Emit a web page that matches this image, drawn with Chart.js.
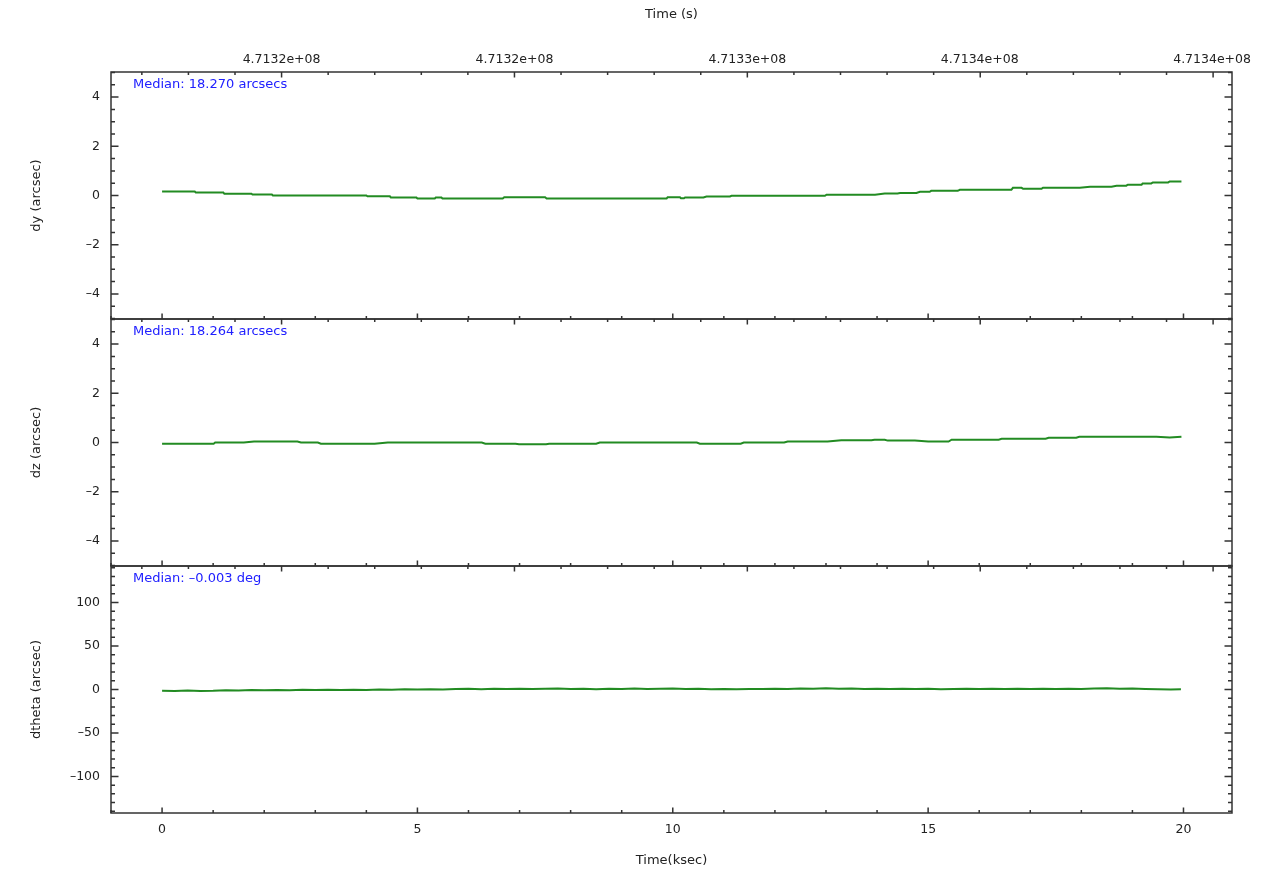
<!DOCTYPE html>
<html><head><meta charset="utf-8">
<script src="https://cdn.jsdelivr.net/npm/chart.js@4.4.1/dist/chart.umd.min.js"></script>
<style>
html,body{margin:0;padding:0;background:#fff;overflow:hidden}
.wrap{position:relative;width:1265px;height:874px}
canvas{position:absolute;left:0;top:0}
</style>
</head><body>
<div class="wrap">
<canvas id="c0" width="1265" height="874"></canvas>
<canvas id="c1" width="1265" height="874"></canvas>
<canvas id="c2" width="1265" height="874"></canvas>
</div>
<script>
// ---------------- data ----------------
const dyTime = [0, 0.64, 0.66, 1.2, 1.22, 1.75, 1.77, 2.15, 2.17, 4.0, 4.02, 4.46, 4.48, 4.98, 5.0, 5.34, 5.36, 5.47, 5.49, 6.67, 6.7, 7.5, 7.53, 9.88, 9.9, 10.14, 10.16, 10.22, 10.24, 10.6, 10.66, 11.12, 11.15, 12.98, 13.01, 13.96, 14.15, 14.4, 14.45, 14.77, 14.84, 15.03, 15.06, 15.58, 15.62, 16.63, 16.66, 16.83, 16.86, 17.22, 17.25, 17.97, 18.17, 18.59, 18.69, 18.88, 18.91, 19.18, 19.2, 19.37, 19.4, 19.7, 19.73, 19.96];
const dyVal = [0.16, 0.16, 0.12, 0.12, 0.07, 0.07, 0.04, 0.04, 0.0, 0.0, -0.03, -0.03, -0.08, -0.08, -0.12, -0.12, -0.08, -0.08, -0.12, -0.12, -0.07, -0.07, -0.12, -0.12, -0.07, -0.07, -0.11, -0.11, -0.08, -0.08, -0.04, -0.04, -0.01, -0.01, 0.03, 0.03, 0.08, 0.08, 0.10, 0.10, 0.15, 0.15, 0.19, 0.19, 0.23, 0.23, 0.31, 0.31, 0.27, 0.27, 0.32, 0.32, 0.36, 0.36, 0.40, 0.40, 0.44, 0.44, 0.49, 0.49, 0.53, 0.53, 0.57, 0.57];

const dzTime = [0, 1.01, 1.04, 1.6, 1.8, 2.65, 2.72, 3.05, 3.11, 4.16, 4.42, 6.26, 6.33, 6.92, 6.99, 7.52, 7.58, 8.5, 8.57, 10.47, 10.53, 11.33, 11.39, 12.18, 12.25, 13.03, 13.3, 13.89, 13.95, 14.15, 14.21, 14.74, 15.0, 15.4, 15.46, 16.38, 16.44, 17.3, 17.36, 17.9, 17.96, 19.47, 19.73, 19.96];
const dzVal = [-0.05, -0.05, 0.0, 0.0, 0.04, 0.04, 0.0, 0.0, -0.05, -0.05, 0.0, 0.0, -0.05, -0.05, -0.075, -0.075, -0.05, -0.05, 0.0, 0.0, -0.05, -0.05, 0.0, 0.0, 0.04, 0.04, 0.09, 0.09, 0.115, 0.115, 0.077, 0.077, 0.04, 0.04, 0.115, 0.115, 0.15, 0.15, 0.19, 0.19, 0.23, 0.23, 0.2, 0.23];

const dthetaTime = [0, 0.25, 0.5, 0.75, 1, 1.25, 1.5, 1.75, 2, 2.25, 2.5, 2.75, 3, 3.25, 3.5, 3.75, 4, 4.25, 4.5, 4.75, 5, 5.25, 5.5, 5.75, 6, 6.25, 6.5, 6.75, 7, 7.25, 7.5, 7.75, 8, 8.25, 8.5, 8.75, 9, 9.25, 9.5, 9.75, 10, 10.25, 10.5, 10.75, 11, 11.25, 11.5, 11.75, 12, 12.25, 12.5, 12.75, 13, 13.25, 13.5, 13.75, 14, 14.25, 14.5, 14.75, 15, 15.25, 15.5, 15.75, 16, 16.25, 16.5, 16.75, 17, 17.25, 17.5, 17.75, 18, 18.25, 18.5, 18.75, 19, 19.25, 19.5, 19.75, 19.95];
const dthetaVal = [-1.4, -1.7, -1.2, -1.6, -1.5, -0.9, -1.1, -0.7, -1.0, -0.5, -0.8, -0.3, -0.6, -0.4, -0.7, -0.2, -0.5, 0.1, -0.2, 0.4, 0.0, 0.3, -0.1, 0.5, 0.8, 0.4, 0.9, 0.6, 1.0, 0.5, 0.8, 1.1, 0.6, 0.9, 0.4, 1.0, 0.7, 1.2, 0.6, 0.9, 1.1, 0.5, 0.8, 0.3, 0.6, 0.4, 0.7, 0.5, 0.9, 0.6, 1.1, 0.8, 1.3, 0.9, 1.2, 0.7, 1.0, 0.6, 0.9, 0.5, 0.8, 0.4, 0.7, 1.0, 0.6, 0.9, 0.5, 0.8, 0.6, 1.0, 0.7, 0.9, 0.6, 1.1, 1.3, 1.0, 1.2, 0.6, 0.3, 0.1, 0.2];

// axis ticks / labels
const xMajorTicks = [0, 5, 10, 15, 20];
const topTickKsec = [2.34, 6.90, 11.46, 16.01, 20.56];
const topTickLabels = ['4.7132e+08', '4.7132e+08', '4.7133e+08', '4.7134e+08', '4.7134e+08'];
const dyTicks = [-4, -2, 0, 2, 4];
const dzTicks = [-4, -2, 0, 2, 4];
const dthetaTicks = [-100, -50, 0, 50, 100];
const yTitles = ['dy (arcsec)', 'dz (arcsec)', 'dtheta (arcsec)'];
const medianTexts = ['Median: 18.270 arcsecs', 'Median: 18.264 arcsecs', 'Median: \u20130.003 deg'];

// ---------------- layout / style ----------------
const X_MIN = -1.0, X_MAX = 20.95;
const W = 1265, H = 874;
const AREA_LEFT = 111, AREA_RIGHT = 1232;
const PANEL_TOP = [72, 319, 566];
const PANEL_BOTTOM = [319, 566, 813];
const TXT = '#222';
const AXIS = '#333';
const GREEN = '#228b22';
const BLUE = '#2020ff';
const tickFont = {family: 'DejaVu Sans', size: 12.5};
const titleFont = {family: 'DejaVu Sans', size: 13};

function fmt(v) { return v < 0 ? '\u2013' + Math.abs(v) : String(v); }

const deco = {
  id: 'deco',
  afterDatasetsDraw(chart, args, o) {
    const {ctx, chartArea: a, scales} = chart;
    const xs = scales.x, ys = scales.y;
    ctx.save();
    ctx.strokeStyle = AXIS;
    ctx.lineWidth = 1.5;
    ctx.beginPath();
    // y ticks (left and right, inward)
    const ys0 = Math.ceil(ys.min / o.yMinor - 1e-9);
    for (let i = ys0; i * o.yMinor <= ys.max + 1e-9; i++) {
      const v = i * o.yMinor;
      const r = v / o.yMajor;
      const major = Math.abs(r - Math.round(r)) < 1e-6;
      const len = major ? 7.5 : 4;
      const y = ys.getPixelForValue(v);
      ctx.moveTo(a.left, y); ctx.lineTo(a.left + len, y);
      ctx.moveTo(a.right, y); ctx.lineTo(a.right - len, y);
    }
    // bottom ksec ticks (upward)
    for (let i = Math.ceil(xs.min); i <= xs.max; i++) {
      const major = i % 5 === 0;
      const len = major ? 5.5 : 3;
      const x = xs.getPixelForValue(i);
      ctx.moveTo(x, a.bottom); ctx.lineTo(x, a.bottom - len);
    }
    // top "Time (s)" ticks (downward)
    const step = (topTickKsec[1] - topTickKsec[0]) / 5;
    const first = topTickKsec[0];
    const kStart = Math.ceil((xs.min - first) / step);
    const kEnd = Math.floor((xs.max - first) / step);
    for (let k = kStart; k <= kEnd; k++) {
      const v = first + k * step;
      const major = ((k % 5) + 5) % 5 === 0;
      const len = major ? 5.5 : 3;
      const x = xs.getPixelForValue(v);
      ctx.moveTo(x, a.top); ctx.lineTo(x, a.top + len);
    }
    ctx.stroke();
    // frame
    ctx.strokeRect(a.left, a.top, a.right - a.left, a.bottom - a.top);
    // median text
    ctx.fillStyle = BLUE;
    ctx.font = '13px "DejaVu Sans"';
    ctx.textAlign = 'left';
    ctx.textBaseline = 'alphabetic';
    ctx.fillText(o.median, a.left + 22, a.top + 16);
    ctx.restore();
  }
};

function makePanel(k, time, vals, ticks, yMax, yMajor, yMinor) {
  const isTop = k === 0, isBottom = k === 2;
  const pts = time.map((t, i) => ({x: t, y: vals[i]}));
  const scales = {
    x: {
      type: 'linear', position: 'bottom', min: X_MIN, max: X_MAX,
      afterBuildTicks: s => { s.ticks = xMajorTicks.map(v => ({value: v})); },
      afterFit: s => { s.height = isBottom ? (H - PANEL_BOTTOM[2]) : 0; },
      ticks: {display: isBottom, autoSkip: false, maxRotation: 0, padding: 9.5, font: tickFont, color: TXT,
              callback: v => fmt(v)},
      grid: {display: false, drawTicks: false},
      border: {display: false},
      title: {display: isBottom, text: 'Time(ksec)', font: titleFont, color: TXT, padding: {top: 0, bottom: 6}}
    },
    y: {
      type: 'linear', position: 'left', min: -yMax, max: yMax,
      afterBuildTicks: s => { s.ticks = ticks.map(v => ({value: v})); },
      afterFit: s => { s.width = AREA_LEFT; },
      ticks: {autoSkip: false, padding: 11, font: tickFont, color: TXT, callback: v => fmt(v)},
      grid: {display: false, drawTicks: false},
      border: {display: false},
      title: {display: true, text: yTitles[k], font: titleFont, color: TXT, padding: {top: 29, bottom: 0}}
    }
  };
  if (isTop) {
    scales.xTop = {
      type: 'linear', position: 'top', min: X_MIN, max: X_MAX,
      afterBuildTicks: s => { s.ticks = topTickKsec.map(v => ({value: v})); },
      afterFit: s => { s.height = PANEL_TOP[0]; },
      ticks: {autoSkip: false, maxRotation: 0, padding: 4.5, font: tickFont, color: TXT,
              callback: (v, i) => topTickLabels[i]},
      grid: {display: false, drawTicks: false},
      border: {display: false},
      title: {display: true, text: 'Time (s)', font: titleFont, color: TXT, padding: {top: 7, bottom: 0}}
    };
  }
  return new Chart(document.getElementById('c' + k), {
    type: 'line',
    data: {datasets: [{data: pts, borderColor: GREEN, borderWidth: 2, pointRadius: 0, tension: 0, fill: false}]},
    options: {
      responsive: false, animation: false, events: [],
      parsing: true,
      layout: {padding: {left: 0, right: W - AREA_RIGHT,
                         top: isTop ? 0 : PANEL_TOP[k],
                         bottom: isBottom ? 0 : H - PANEL_BOTTOM[k]}},
      scales,
      plugins: {
        legend: {display: false}, tooltip: {enabled: false},
        deco: {yMajor, yMinor, median: medianTexts[k]}
      }
    },
    plugins: [deco]
  });
}

makePanel(0, dyTime, dyVal, dyTicks, 5.02, 2, 0.5);
makePanel(1, dzTime, dzVal, dzTicks, 5.02, 2, 0.5);
makePanel(2, dthetaTime, dthetaVal, dthetaTicks, 142, 50, 10);
</script>
</body></html>
